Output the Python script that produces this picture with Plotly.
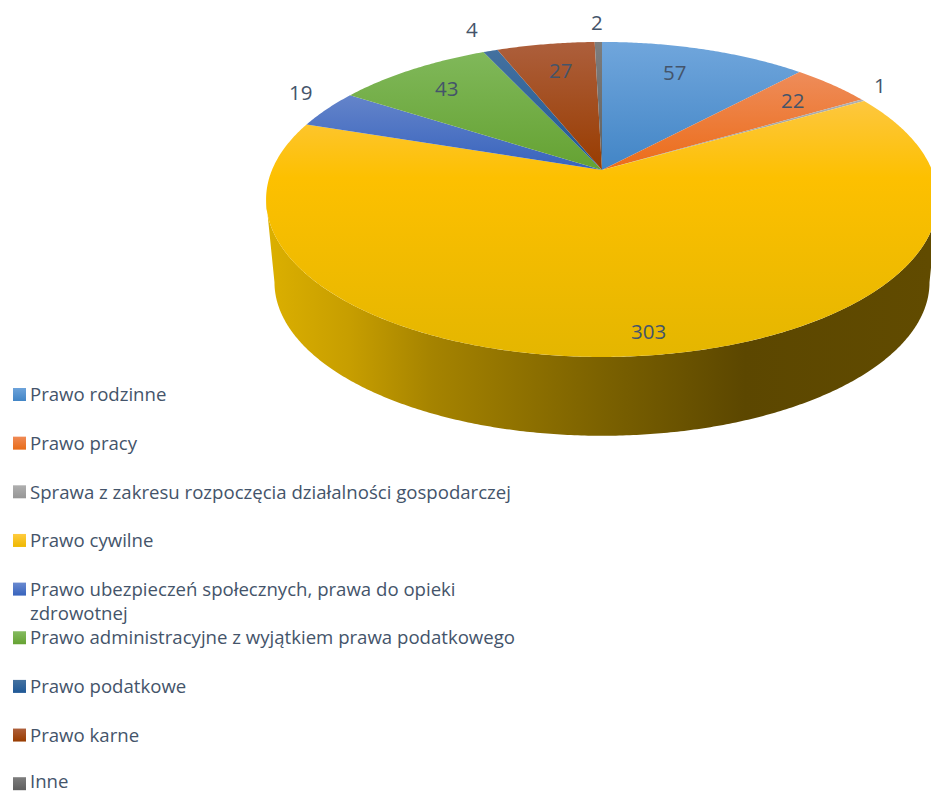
import math
import plotly.graph_objects as go

# ---- data ----
categories = ["Prawo rodzinne", "Prawo pracy",
              "Sprawa z zakresu rozpoczęcia działalności gospodarczej",
              "Prawo cywilne",
              "Prawo ubezpieczeń społecznych, prawa do opieki<br>zdrowotnej",
              "Prawo administracyjne z wyjątkiem prawa podatkowego",
              "Prawo podatkowe", "Prawo karne", "Inne"]
values = [57, 22, 1, 303, 19, 43, 4, 27, 2]

# ---- style: gradient (top colour, bottom colour) per slice ----
top_colors = ["#70a6dc", "#ee8c5a", "#b0b0b0", "#fdc73f", "#6484ca", "#80b85a", "#44719f", "#ad5f3c", "#7d7d7d"]
bottom_colors = ["#4285c6", "#ec6c18", "#969696", "#e4b600", "#3763bd", "#65a232", "#1f5896", "#983c00", "#5f5f5f"]
mid_yellow = "#fdc000"
legend_top = ["#6da3da", "#f08a55", "#afafaf", "#ffcb40", "#6a8ad0", "#85bb60", "#44719f", "#ae5f3a", "#7d7d7d"]
legend_bottom = ["#4285c6", "#e86c18", "#969696", "#eeb800", "#3763bd", "#65a232", "#1f5896", "#983c00", "#5f5f5f"]
text_color = "#44546a"
font = "Open Sans"

# ---- label placement (screen px) ----
label_pos = [(674, 72), (792, 100), (880, 85), (648, 331), (300, 92), (446, 88), (472, 29), (560, 70), (597, 22)]
legend_row0, legend_step = 394.5, 48.65

# ---- perspective disc geometry ----
W, H = 931, 793
CX, CY = 602, 170
A, B, P = 330, 152, 0.187
WALL_DY, WALL_SCALE = 83.5, 0.975
total = sum(values)


def project(deg, r=1.0, scale=1.0, dy=0.0):
    t = math.radians(deg)
    X, Y = r * math.sin(t), r * math.cos(t)
    w = 1 + P * Y
    return CX + scale * A * X / w, CY + dy - scale * B * Y / w


def arc(a0, a1, **kw):
    n = max(2, int(abs(a1 - a0) * 2) + 1)
    return [project(a0 + (a1 - a0) * i / (n - 1), **kw) for i in range(n)]


fig = go.Figure()
angles = [0]
for v in values:
    angles.append(angles[-1] + v / total * 360)

# side wall of the biggest slice, between the disc's left and right silhouette points
big = values.index(max(values))
sil = math.degrees(math.acos(-P))
wall0, wall1 = sil, 360 - sil
pts = arc(wall0, wall1) + arc(wall1, wall0, scale=WALL_SCALE, dy=WALL_DY)
fig.add_trace(go.Scatter(
    x=[p[0] for p in pts], y=[p[1] for p in pts], mode="none", fill="toself",
    fillgradient=dict(type="horizontal", start=266, stop=931, colorscale=[
        [0, "#dcb000"], [0.125, "#c79e00"], [0.25, "#a58300"], [0.5, "#7c6200"],
        [0.72, "#5c4700"], [1, "#614b00"]]),
    showlegend=False, hoverinfo="skip"))

# top faces
for i, c in enumerate(categories):
    pts = [(CX, CY)] + arc(angles[i], angles[i + 1]) + [(CX, CY)]
    xs, ys = [p[0] for p in pts], [p[1] for p in pts]
    y0, y1 = min(ys), max(ys)
    if i == big:
        scale = [[0, top_colors[i]], [0.3, mid_yellow], [1, bottom_colors[i]]]
    else:
        scale = [[0, top_colors[i]], [1, bottom_colors[i]]]
    fig.add_trace(go.Scatter(
        x=xs, y=ys, mode="none", fill="toself",
        fillgradient=dict(type="vertical", start=y0, stop=y1, colorscale=scale),
        name=c.replace("<br>", " "), text=str(values[i]), hoverinfo="name+text", showlegend=False))

# legend
rows = [legend_row0 + legend_step * i for i in range(len(categories))]
for i, c in enumerate(categories):
    fig.add_trace(go.Scatter(
        x=[19.5], y=[rows[i]], mode="markers", showlegend=False, hoverinfo="skip",
        marker=dict(symbol="square", size=13, color=legend_top[i], line=dict(width=0),
                    gradient=dict(type="vertical", color=legend_bottom[i]))))
    fig.add_annotation(x=28.8, y=min(rows[i] - 14.3, H - 26), xref="x", yref="y", text=c, showarrow=False,
                       xanchor="left", yanchor="top", align="left", borderpad=0,
                       font=dict(family=font, size=18.6, color=text_color))

# data labels
for v, (lx, ly) in zip(values, label_pos):
    fig.add_annotation(x=lx, y=ly, xref="x", yref="y", text=str(v), showarrow=False,
                       font=dict(family=font, size=20.5, color=text_color))

fig.update_layout(
    width=W, height=H, margin=dict(l=0, r=0, t=0, b=0), autosize=False,
    paper_bgcolor="white", plot_bgcolor="white", showlegend=False,
    xaxis=dict(range=[0, W], visible=False, fixedrange=True),
    yaxis=dict(range=[H, 0], visible=False, fixedrange=True),
)
fig.write_html("out.html", config={"displayModeBar": False},
               post_script="document.body.style.margin='0';")
